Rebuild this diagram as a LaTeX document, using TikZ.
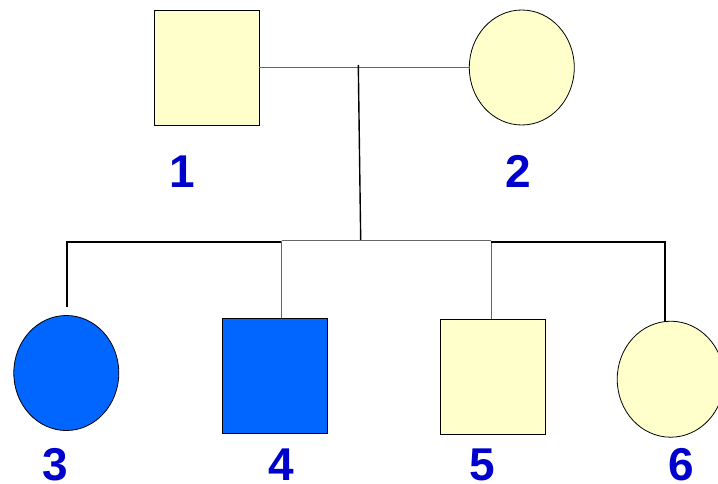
\documentclass[tikz,border=0pt]{standalone}
\usepackage{fontspec}
\setmainfont{Liberation Sans}
\usetikzlibrary{shapes.geometric}
\definecolor{paleyellow}{HTML}{FFFFCC}
\definecolor{affblue}{HTML}{0066FF}
\definecolor{labelblue}{HTML}{0000CC}
\begin{document}
\begin{tikzpicture}[x=1pt,y=-1pt,
  male/.style={rectangle,draw=black,line width=0.8pt,minimum width=105pt,minimum height=115pt,inner sep=0pt},
  female/.style={ellipse,draw=black,line width=0.8pt,minimum width=105pt,minimum height=115pt,inner sep=0pt},
  unaff/.style={fill=paleyellow},
  aff/.style={fill=affblue},
  num/.style={text=labelblue,font=\fontsize{46}{46}\selectfont\bfseries,inner sep=0pt,text depth=0pt,text height=33pt,anchor=base},
  thinline/.style={draw=black!60,line width=0.9pt},
  thickline/.style={draw=black,line width=1.8pt}]
\useasboundingbox (0,0) rectangle (718,483);
% parents
\node[male,unaff] (p1) at (206.5,67.5) {};
\node[female,unaff] (p2) at (521.8,67.5) {};
% children
\node[female,aff] (c3) at (66.3,373) {};
\node[male,aff] (c4) at (275.2,375.8) {};
\node[male,unaff] (c5) at (492.8,376.8) {};
\node[female,unaff,minimum width=107pt,minimum height=116pt] (c6) at (670.7,379.2) {};
% labels
\node[num] (l1) at (182.5,187) {1};
\node[num] (l2) at (518,187) {2};
\node[num] (l3) at (55.5,480) {3};
\node[num] (l4) at (281.5,480) {4};
\node[num] (l5) at (482.5,480) {5};
\node[num] (l6) at (681.5,480) {6};
% coordinates
\coordinate (mtop) at (358.3,65);
\coordinate (mbot) at (360.7,240.7);
\coordinate (s3top) at (66.7,306.7);
\coordinate (s3) at (66.7,242.3);
\coordinate (s4t) at (281.7,242.3);
\coordinate (s4) at (281.7,240.7);
\coordinate (s5) at (491.3,240.7);
\coordinate (s5t) at (491.3,242.3);
\coordinate (s6) at (665.3,242.3);
\coordinate (s6b) at (665.3,321.5);
% marriage line
\draw[thinline] (p1.east) -- (p2.west);
\draw[thickline,line width=1.4pt] (mtop) -- (mbot);
% sibship line
\draw[thickline] (s3top) -- (s3) -- (s4t);
\draw[thinline] (s4) -- (s5);
\draw[thinline] (s4) -- (s4 |- c4.north);
\draw[thinline] (s5) -- (s5 |- c5.north);
\draw[thickline] (s5t) -- (s6) -- (s6b);
\end{tikzpicture}
\end{document}
